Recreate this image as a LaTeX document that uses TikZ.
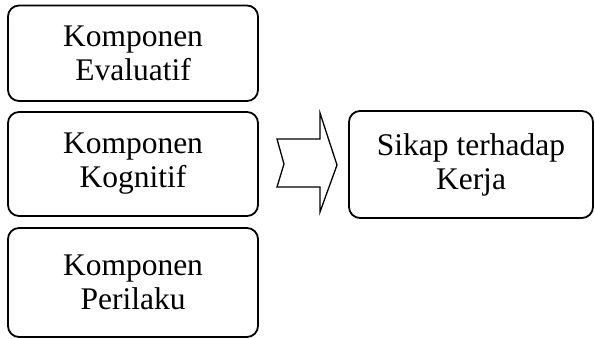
\documentclass[tikz,border=0pt]{standalone}
\usepackage{fontspec}
\setmainfont{Liberation Serif}
\usetikzlibrary{positioning}

\begin{document}
\begin{tikzpicture}[
  x=1pt,y=1pt,
  komp/.style={draw,line width=1.8pt,rounded corners=11pt,align=center,
               minimum width=250pt,inner sep=0pt,
               font=\fontsize{31.5}{34}\selectfont},
  panah/.style={draw,line width=1.3pt,line join=miter},
]
  \useasboundingbox (0,0) rectangle (595,338);

  \node[komp,minimum height=95.5pt] (eval) at (133,284.75) {Komponen\\Evaluatif};
  \node[komp,minimum height=104pt]  (kog)  at (133,174)    {Komponen\\Kognitif};
  \node[komp,minimum height=109pt]  (peri) at (133,55.5)   {Komponen\\Perilaku};
  \node[komp,minimum width=244pt,minimum height=107pt] (sikap) at (471,173.5)
        {Sikap terhadap\\Kerja};

  % panah dari komponen ke sikap
  \coordinate (ekor) at (277,174);
  \coordinate (ujung) at (337,173);
  \draw[panah] (ekor) ++(7,0) -- ++(-7,25) -- ++(43,0) -- ++(0,26)
    -- (ujung) -- ++(-17,-47) -- ++(0,25) -- ++(-43,0) -- cycle;
\end{tikzpicture}
\end{document}
